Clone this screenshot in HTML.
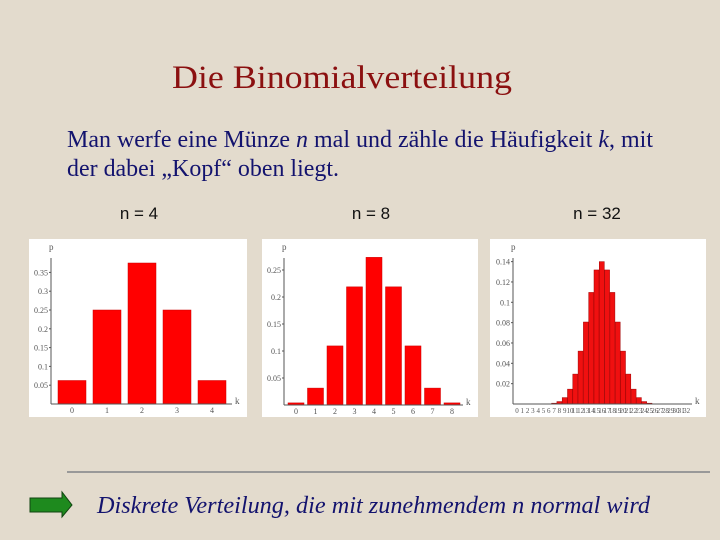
<!DOCTYPE html>
<html><head><meta charset="utf-8"><style>
body{margin:0;width:720px;height:540px;overflow:hidden;background:#e3dbcd;}
svg{display:block}
</style></head><body>
<svg width="720" height="540" xmlns="http://www.w3.org/2000/svg">
<rect width="720" height="540" fill="#e3dbcd"/>
<text x="342" y="88" text-anchor="middle" font-family="Liberation Serif, serif" font-size="33" fill="#8b1010" textLength="340" lengthAdjust="spacingAndGlyphs">Die Binomialverteilung</text>
<text x="67" y="147" font-family="Liberation Serif, serif" font-size="24" fill="#13136e" textLength="586" lengthAdjust="spacingAndGlyphs">Man werfe eine Münze <tspan font-style="italic">n</tspan> mal und zähle die Häufigkeit <tspan font-style="italic">k</tspan>, mit</text>
<text x="67" y="176" font-family="Liberation Serif, serif" font-size="24" fill="#13136e" textLength="272" lengthAdjust="spacingAndGlyphs">der dabei „Kopf“ oben liegt.</text>
<text x="139" y="219" text-anchor="middle" font-family="Liberation Sans, sans-serif" font-size="17" fill="#111">n = 4</text>
<text x="371" y="219" text-anchor="middle" font-family="Liberation Sans, sans-serif" font-size="17" fill="#111">n = 8</text>
<text x="597" y="219" text-anchor="middle" font-family="Liberation Sans, sans-serif" font-size="17" fill="#111">n = 32</text>
<g id="charts"></g>
<line x1="67" y1="472" x2="710" y2="472" stroke="#999" stroke-width="2"/>
<polygon points="30,498 62,498 62,492 72,505 62,517 62,512 30,512" fill="#1e8a1e" stroke="#114411" stroke-width="1"/>
<text x="97" y="513" font-family="Liberation Serif, serif" font-size="24" font-style="italic" fill="#13136e" textLength="553" lengthAdjust="spacingAndGlyphs">Diskrete Verteilung, die mit zunehmendem n normal wird</text>
</svg>
<script>
const kN4=[0,1,2,3,4];
const pN4=[0.0625,0.25,0.375,0.25,0.0625];
const yTicksN4=[0.05,0.1,0.15,0.2,0.25,0.3,0.35];
const kN8=[0,1,2,3,4,5,6,7,8];
const pN8=[0.0039,0.0313,0.1094,0.2188,0.2734,0.2188,0.1094,0.0313,0.0039];
const yTicksN8=[0.05,0.1,0.15,0.2,0.25];
const kN32=[0,1,2,3,4,5,6,7,8,9,10,11,12,13,14,15,16,17,18,19,20,21,22,23,24,25,26,27,28,29,30,31,32];
const pN32=[0,0,0,0,0.00001,0.00005,0.0002,0.0008,0.0024,0.0063,0.0146,0.0294,0.052,0.0806,0.1097,0.1318,0.14,0.1318,0.1097,0.0806,0.052,0.0294,0.0146,0.0063,0.0024,0.0008,0.0002,0.00005,0.00001,0,0,0,0];
const yTicksN32=[0.02,0.04,0.06,0.08,0.1,0.12,0.14];
const NS='http://www.w3.org/2000/svg';
const root=document.getElementById('charts');
function mk(tag,attrs,parent){const e=document.createElementNS(NS,tag);for(const a in attrs)e.setAttribute(a,attrs[a]);parent.appendChild(e);return e;}
function chart(cfg,ks,ps,ticks){
  const g=mk('g',{},root);
  
  
  const bg=mk('rect',{x:cfg.px,y:239,width:cfg.pw,height:178,fill:'#fff'},g);
  
  
  const y=v=>cfg.y0-v*cfg.scale;
  const x=k=>cfg.x0+k*cfg.step;
  ps.forEach((p,i)=>{
    const b=mk('rect',{x:x(ks[i])-cfg.bw/2,y:y(p),width:cfg.bw,height:Math.max(0,cfg.y0-y(p)),fill:cfg.fill,stroke:cfg.stroke,'stroke-width':cfg.sw},g);
    
    
  });
  const ax=mk('line',{x1:cfg.ax,y1:cfg.y0,x2:cfg.xEnd,y2:cfg.y0,stroke:'#555','stroke-width':1},g);
  
  
  const ay=mk('line',{x1:cfg.ax,y1:cfg.y0,x2:cfg.ax,y2:258,stroke:'#555','stroke-width':1},g);
  
  
  ticks.forEach(t=>{
    const tl=mk('text',{x:cfg.ax-3,y:y(t)+3,'text-anchor':'end','font-family':'Liberation Serif, serif','font-size':cfg.fs,fill:'#555'},g);
    tl.textContent=String(t);
    
    
    mk('line',{x1:cfg.ax-2,y1:y(t),x2:cfg.ax,y2:y(t),stroke:'#555'},g);
  });
  ks.forEach(k=>{
    const tl=mk('text',{x:x(k),y:cfg.y0+9,'text-anchor':'middle','font-family':'Liberation Serif, serif','font-size':cfg.xfs,fill:'#555'},g);
    tl.textContent=k;
    
    
  });
  const pl=mk('text',{x:cfg.ax-2,y:250,'font-family':'Liberation Serif, serif','font-size':9,fill:'#555'},g);
  pl.textContent='p';
  
  
  const kl=mk('text',{x:cfg.xEnd+3,y:cfg.y0,'font-family':'Liberation Serif, serif','font-size':9,fill:'#555'},g);
  kl.textContent='k';
  
  
}
chart({name:'chart-n4',px:29,pw:218,x0:72,step:35,bw:28,ax:51,y0:404,scale:376,xEnd:232,fill:'#f00',stroke:'#c00',sw:0.5,fs:8,xfs:8},kN4,pN4,yTicksN4);
chart({name:'chart-n8',px:262,pw:216,x0:296,step:19.5,bw:16,ax:284,y0:405,scale:540,xEnd:463,fill:'#f00',stroke:'#c00',sw:0.5,fs:8,xfs:8},kN8,pN8,yTicksN8);
chart({name:'chart-n32',px:490,pw:216,x0:517,step:5.3,bw:5,ax:513,y0:404,scale:1017,xEnd:692,fill:'#f01010',stroke:'#a00000',sw:0.5,fs:8,xfs:7},kN32,pN32,yTicksN32);
</script>
</body></html>
